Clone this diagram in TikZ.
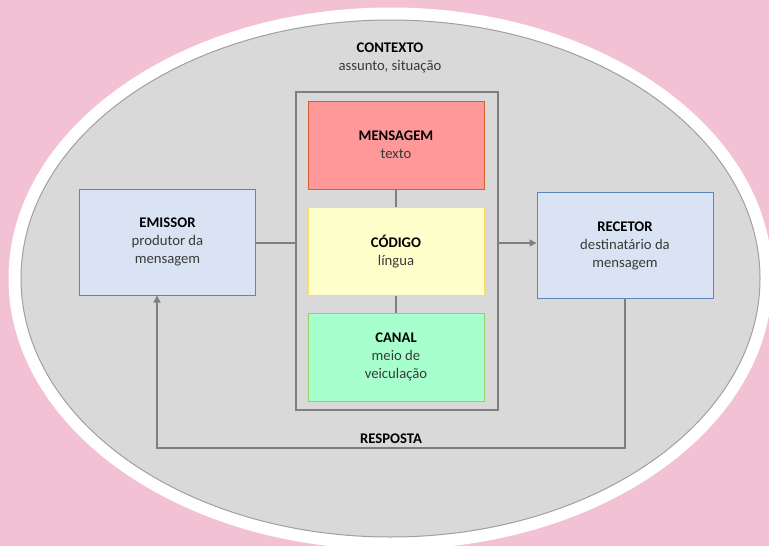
\documentclass[tikz,border=0pt]{standalone}
\usepackage{fontspec}
\setmainfont{Carlito}
\usepackage{xcolor}
\usepackage{tikz}
\usetikzlibrary{arrows.meta}
\usetikzlibrary{positioning}

\definecolor{bgpink}{HTML}{F2C1D3}
\definecolor{ctxgray}{HTML}{D9D9D9}
\definecolor{ctxline}{HTML}{A0A0A0}
\definecolor{flowgray}{HTML}{7F7F7F}
\definecolor{msgfill}{HTML}{FF9999}
\definecolor{msgline}{HTML}{D0602E}
\definecolor{codfill}{HTML}{FFFFCC}
\definecolor{codline}{HTML}{FFD966}
\definecolor{canfill}{HTML}{A8FFCE}
\definecolor{canline}{HTML}{92D06A}
\definecolor{agtfill}{HTML}{DAE3F3}
\definecolor{agtline}{HTML}{5F86B8}
\definecolor{txtgray}{HTML}{3A3A3A}

\begin{document}
\begin{tikzpicture}[
		x=1pt, y=-1pt,
		>={Triangle[length=7pt,width=7pt]},
		font=\fontsize{14.7}{18}\selectfont,
		box/.style={draw,line width=1pt,minimum width=176pt,minimum height=88pt,
				align=center,inner sep=2pt,text=txtgray}, % coloured element box
		agent/.style={box,fill=agtfill,draw=agtline,minimum height=106pt}, % sender / receiver
		flow/.style={draw=flowgray,line width=1.6pt}, % grey connectors
	]
	% --- background and the context ellipse
	\fill[bgpink] (0,0) rectangle (769,546);
	\useasboundingbox (0,0) rectangle (769,546);
	\clip (0,0) rectangle (769,546);
	\fill[white] (390.5,278.5) ellipse [x radius=382, y radius=271];
	\filldraw[fill=ctxgray,draw=ctxline,line width=1pt] (390.5,278.5) ellipse [x radius=369.5, y radius=258.5];
	\node[align=center,text=txtgray] (ctx) at (390,58) {\textbf{\color{black}CONTEXTO}\\assunto, situação};

	% --- middle column: message, code and channel
	\node[draw=flowgray,line width=2pt,minimum width=202pt,minimum height=318pt] (cont) at (396.5,250.5) {};
	\node[box,fill=msgfill,draw=msgline] (msg) at (396,145) {\textbf{\color{black}MENSAGEM}\\texto};
	\node[box,fill=codfill,draw=codline] (cod) at (396,251.5) {\textbf{\color{black}CÓDIGO}\\língua};
	\node[box,fill=canfill,draw=canline] (can) at (396,357) {\textbf{\color{black}CANAL}\\meio de\\veiculação};
	\draw[flow] (msg) -- (cod);
	\draw[flow] (cod) -- (can);

	% --- sender and receiver
	\node[agent] (emi) at (167.5,242) {\textbf{\color{black}EMISSOR}\\produtor da\\mensagem};
	\node[agent] (rec) at (625,245.5) {\textbf{\color{black}RECETOR}\\destinatário da\\mensagem};
	\coordinate (back) at (391,448);
	\node[above=1pt,text=black] (resp) at (back) {\textbf{RESPOSTA}};

	% --- connectors
	\draw[flow] (emi.east |- 0,243) -- (cont.west |- 0,243);
	\draw[flow,->] (cont.east |- 0,243) -- (rec.west |- 0,243);
	\draw[flow,->] (rec.south) |- (back) -| ([xshift=-10.5pt]emi.south);
\end{tikzpicture}
\end{document}
